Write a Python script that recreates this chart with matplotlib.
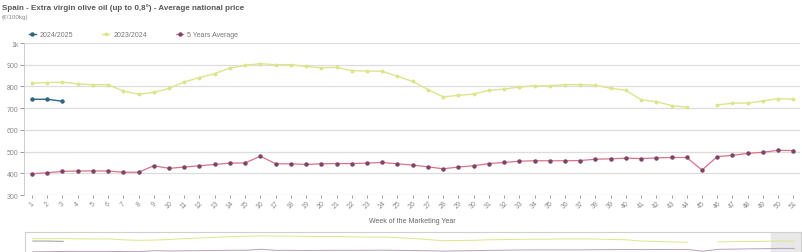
import numpy as np
import matplotlib.pyplot as plt
from matplotlib.patches import Rectangle

plt.rcParams['font.family'] = ['Liberation Sans Narrow', 'Liberation Sans', 'DejaVu Sans']

# Semanas de la campaña
weeks = list(range(1, 52))

# Precio medio (EUR/100kg)
season_2024_25 = [741, 741, 732]

season_2023_24 = [815, 818, 820, 812, 808, 808, 779, 764, 773, 791,
                  821, 841, 859, 885, 897, 905, 900, 900, 892, 886,
                  888, 873, 871, 870, 847, 823, 786, 752, 759, 765,
                  782, 788, 797, 803, 803, 808, 809, 805, 792, 782,
                  739, 730, 712, 705, np.nan, 715, 723, 724, 733, 744,
                  741]

avg_5y = [398, 403, 409, 411, 411, 411, 405, 405, 435, 423,
          429, 435, 441, 447, 448, 479, 444, 444, 441, 444,
          445, 445, 447, 450, 444, 438, 430, 421, 429, 435,
          445, 450, 456, 458, 458, 458, 459, 465, 467, 470,
          468, 471, 473, 473, 415, 477, 483, 492, 497, 506,
          505]

y_ticks = [300, 400, 500, 600, 700, 800, 900, 1000]
y_labels = ['300', '400', '500', '600', '700', '800', '900', '1k']

c_new = '#2f6680'
c_old = '#dde58a'
c_avg_line = '#d9728a'
c_avg_mark = '#7d4466'
c_text = '#8a8a8a'

fig = plt.figure(figsize=(8.02, 2.53), dpi=100)
ax = fig.add_axes([0.030, 0.225, 0.968, 0.601])

l1, = ax.plot(weeks[:len(season_2024_25)], season_2024_25, '-o', color=c_new,
              lw=1.0, ms=2.2, mfc=c_new, mec=c_new, label='2024/2025')
l2, = ax.plot(weeks, season_2023_24, '-o', color=c_old, lw=1.0, ms=1.8,
              mfc=c_old, mec=c_old, label='2023/2024')
l3, = ax.plot(weeks, avg_5y, '-o', color=c_avg_line, lw=0.9, ms=2.2,
              mfc=c_avg_mark, mec=c_avg_mark, label='5 Years Average')

ax.set_xlim(0.48, 51.46)
ax.set_ylim(300, 1000)
ax.set_yticks(y_ticks)
ax.set_yticklabels(y_labels)
ax.set_xticks(weeks)
ax.set_xticklabels([str(w) for w in weeks], rotation=45, ha='center')
ax.grid(axis='y', color='#dddddd', lw=0.9)
ax.set_axisbelow(True)
for s in ['top', 'right', 'bottom']:
    ax.spines[s].set_visible(False)
ax.spines['left'].set_color('#cccccc')
ax.spines['left'].set_linewidth(0.7)
ax.tick_params(axis='y', labelsize=5, colors=c_text, length=3, width=0.6, pad=1)
ax.tick_params(axis='x', labelsize=5, colors=c_text, length=2, width=0.6, pad=1)
ax.set_xlabel('Week of the Marketing Year', fontsize=5, color='#666666', labelpad=5)

fig.text(0.002, 0.985, 'Spain - Extra virgin olive oil (up to 0,8\u00b0) - Average national price',
         fontsize=5.8, fontweight='bold', color='#595959', va='top', ha='left')
fig.text(0.002, 0.94, '(\u20ac/100kg)', fontsize=4.5, color='#888888', va='top', ha='left')

fig.legend(handles=[l1, l2, l3], loc='center left', bbox_to_anchor=(0.028, 0.858),
           ncol=3, frameon=False, fontsize=5, handlelength=1.0, handletextpad=0.6,
           columnspacing=4.2, labelcolor='#777777', markerscale=1.0)

# navegador inferior
nav = fig.add_axes([0.031, -0.02, 0.968, 0.099])
nav.plot(weeks[:len(season_2024_25)], season_2024_25, color='#999999', lw=0.7)
nav.plot(weeks, season_2023_24, color=c_old, lw=0.7)
nav.plot(weeks, avg_5y, color='#b8a0b8', lw=0.7)
nav.set_xlim(0.48, 51.46)
nav.set_ylim(230, 1030)
nav.add_patch(Rectangle((49.5, 0), 2.0, 1, transform=nav.get_xaxis_transform(),
                        color='#e8e8e8', zorder=0))
nav.set_xticks([])
nav.set_yticks([])
for s in nav.spines.values():
    s.set_color('#d0d0d0')
    s.set_linewidth(0.8)

fig.savefig('out.png', dpi=100)
